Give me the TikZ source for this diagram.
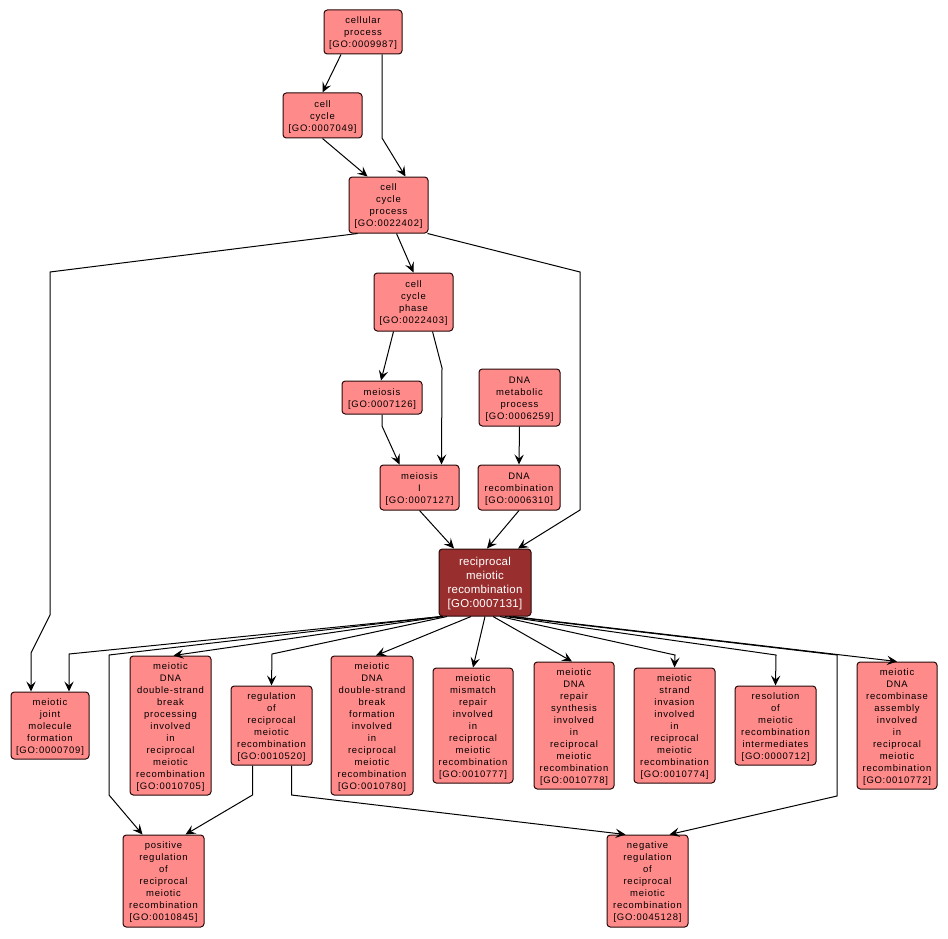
\documentclass[tikz,border=0pt]{standalone}
\usepackage{fontspec}
\usetikzlibrary{arrows.meta,calc}
\newfontfamily\gofont[LetterSpace=8]{Liberation Sans}
\newfontfamily\gofontb[LetterSpace=2]{Liberation Sans}
\definecolor{gofill}{RGB}{255,138,138}
\definecolor{godark}{RGB}{153,46,46}
\definecolor{goline}{RGB}{40,10,10}
\newcommand\gonode[7]{%
  \node[#7, minimum width={(#4-#2)*0.75pt}, minimum height={(#5-#3)*0.75pt}] (#1) at ({(#2+#4)/2},{(#3+#5)/2}) {};
  \node[#7text] (#1t) at ($(#1.center)+(0,1.5)$) {#6};}
\tikzset{
  gobox/.style={draw=goline, fill=gofill, rounded corners=2.5pt, line width=0.75pt, inner sep=0pt},
  goboxtext/.style={inner sep=0pt, align=center, font=\gofont\fontsize{7.1pt}{9pt}\selectfont},
  godarkbox/.style={draw=goline, fill=godark, rounded corners=2.5pt, line width=0.75pt, inner sep=0pt},
  godarkboxtext/.style={inner sep=0pt, text=white, align=center, font=\gofontb\fontsize{8.6pt}{10.5pt}\selectfont},
  goedge/.style={draw=black, line width=0.75pt, -{Stealth[length=7.5pt,width=7pt,inset=3pt]}}
}
\begin{document}
\begin{tikzpicture}[x=0.75pt,y=-0.75pt]
\useasboundingbox (0,0) rectangle (948,938);
\gonode{n1}{324}{10}{402}{54}{cellular\\process\\{[GO:0009987]}}{gobox}
\gonode{n2}{283}{93}{362}{138}{cell\\cycle\\{[GO:0007049]}}{gobox}
\gonode{n3}{349}{177}{428}{233}{cell\\cycle\\process\\{[GO:0022402]}}{gobox}
\gonode{n4}{374}{273}{453}{331}{cell\\cycle\\phase\\{[GO:0022403]}}{gobox}
\gonode{n5}{342}{381}{422}{414}{meiosis\\{[GO:0007126]}}{gobox}
\gonode{n6}{479}{369}{560}{426}{DNA\\metabolic\\process\\{[GO:0006259]}}{gobox}
\gonode{n7}{380}{465}{459}{510}{meiosis\\I\\{[GO:0007127]}}{gobox}
\gonode{n8}{478}{465}{560}{510}{DNA\\recombination\\{[GO:0006310]}}{gobox}
\gonode{n9}{439}{549}{531}{616}{reciprocal\\meiotic\\recombination\\{[GO:0007131]}}{godarkbox}
\gonode{n10}{11}{692}{89}{759}{meiotic\\joint\\molecule\\formation\\{[GO:0000709]}}{gobox}
\gonode{n11}{130}{656}{211}{795}{meiotic\\DNA\\double-strand\\break\\processing\\involved\\in\\reciprocal\\meiotic\\recombination\\{[GO:0010705]}}{gobox}
\gonode{n12}{231}{686}{312}{765}{regulation\\of\\reciprocal\\meiotic\\recombination\\{[GO:0010520]}}{gobox}
\gonode{n13}{331}{656}{413}{795}{meiotic\\DNA\\double-strand\\break\\formation\\involved\\in\\reciprocal\\meiotic\\recombination\\{[GO:0010780]}}{gobox}
\gonode{n14}{433}{668}{513}{783}{meiotic\\mismatch\\repair\\involved\\in\\reciprocal\\meiotic\\recombination\\{[GO:0010777]}}{gobox}
\gonode{n15}{534}{662}{614}{789}{meiotic\\DNA\\repair\\synthesis\\involved\\in\\reciprocal\\meiotic\\recombination\\{[GO:0010778]}}{gobox}
\gonode{n16}{634}{668}{715}{783}{meiotic\\strand\\invasion\\involved\\in\\reciprocal\\meiotic\\recombination\\{[GO:0010774]}}{gobox}
\gonode{n17}{735}{686}{816}{765}{resolution\\of\\meiotic\\recombination\\intermediates\\{[GO:0000712]}}{gobox}
\gonode{n18}{857}{662}{937}{789}{meiotic\\DNA\\recombinase\\assembly\\involved\\in\\reciprocal\\meiotic\\recombination\\{[GO:0010772]}}{gobox}
\gonode{n19}{123}{835}{204}{927}{positive\\regulation\\of\\reciprocal\\meiotic\\recombination\\{[GO:0010845]}}{gobox}
\gonode{n20}{607}{835}{688}{927}{negative\\regulation\\of\\reciprocal\\meiotic\\recombination\\{[GO:0045128]}}{gobox}
% edges
\draw[goedge] ($(n1.south)+(-22,0)$) -- (n2.north);
\draw[goedge] ($(n1.south)+(19,0)$) -- (382,138) -- ($(n3.north)+(17,0)$);
\draw[goedge] (n2.south) -- ($(n3.north)+(-21,0)$);
\draw[goedge] ($(n3.south)+(-31,0)$) -- (50,272) -- (50,615) -- (31,653) -- ($(n10.north)+(-19,0)$);
\draw[goedge] ($(n3.south)+(8,0)$) -- (n4.north);
\draw[goedge] ($(n3.south east)+(-1,0)$) -- (580,272) -- (580,510) -- ($(n9.north)+(33,0)$);
\draw[goedge] ($(n4.south)+(-20,0)$) -- ($(n5.north)+(-1,0)$);
\draw[goedge] ($(n4.south)+(19,0)$) -- (442,368) -- ($(n7.north)+(22,0)$);
\draw[goedge] (n5.south) -- (382,426) -- ($(n7.north)+(-20,0)$);
\draw[goedge] (n6.south) -- (n8.north);
\draw[goedge] (n7.south) -- ($(n9.north)+(-31,0)$);
\draw[goedge] (n8.south) -- ($(n9.north)+(2,0)$);
\draw[goedge] ($(n9.south)+(-43,0)$) -- (69,654) -- ($(n10.north)+(19,0)$);
\draw[goedge] ($(n9.south)+(-44,0)$) -- (109,655) -- (109,795) -- ($(n19.north)+(-21,0)$);
\draw[goedge] ($(n9.south)+(-42,0)$) -- ($(n11.north)+(3,0)$);
\draw[goedge] ($(n9.south)+(-38,0)$) -- (272,654) -- (n12.north);
\draw[goedge] ($(n9.south)+(-14,0)$) -- ($(n13.north)+(4,0)$);
\draw[goedge] (n9.south) -- (n14.north);
\draw[goedge] ($(n9.south)+(8,0)$) -- ($(n15.north)+(-2,0)$);
\draw[goedge] ($(n9.south)+(15,0)$) -- (675,655) -- (n16.north);
\draw[goedge] ($(n9.south)+(20,0)$) -- (776,655) -- (n17.north);
\draw[goedge] ($(n9.south)+(24,0)$) -- (837,655) -- (837,796) -- ($(n20.north)+(22,0)$);
\draw[goedge] ($(n9.south)+(28,0)$) -- (n18.north);
\draw[goedge] ($(n12.south)+(-19,0)$) -- (252.5,795) -- ($(n19.north)+(22,0)$);
\draw[goedge] ($(n12.south)+(20,0)$) -- (291.5,795) -- ($(n20.north)+(-22,0)$);
\end{tikzpicture}
\end{document}
